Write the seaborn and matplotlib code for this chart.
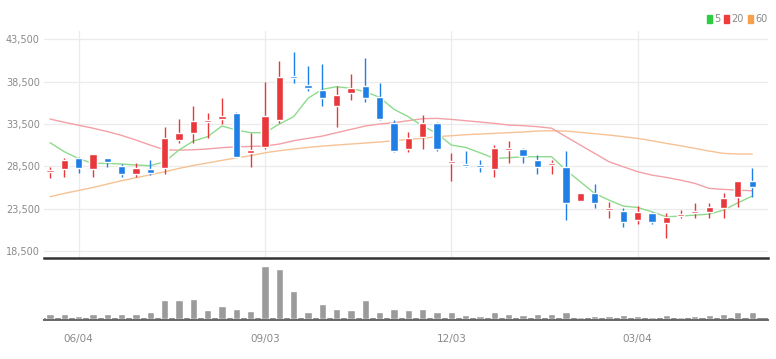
import numpy as np
import pandas as pd
import seaborn as sns
import matplotlib
matplotlib.use("Agg")
from matplotlib import pyplot as plt
from matplotlib.patches import Patch

sns.set_style("white")
plt.rcParams['font.family'] = ['Liberation Sans Narrow', 'DejaVu Sans']

# weekly candles ~~~~~~~~~~~~~~~~~~~~~~~~~~~~~~~~~~~~~~~~~~~~~~~~~~~~~~~~~~~~
opens = [27800, 28170, 29430, 28170, 29430, 28570, 27580, 28170, 28250, 31600,
         32390, 33700, 34120, 34750, 30030, 30810, 33970, 39100, 38100, 37510,
         35660, 37120, 37980, 36640, 33650, 30500, 31920, 33650, 28850, 28620,
         28560, 28130, 30450, 30500, 29240, 28620, 28450, 24390, 25380, 23300,
         23250, 22150, 23010, 21830, 22600, 22950, 23130, 23520, 24900, 26760]
closes = [27900, 29240, 28250, 29900, 29040, 27580, 28330, 27740, 31880, 32390,
          33850, 33850, 34440, 29630, 30420, 34440, 39090, 38950, 37790, 36530,
          36920, 37710, 36530, 34080, 30300, 31880, 33650, 30500, 28920, 28560,
          28450, 30620, 30550, 29710, 28450, 28770, 24120, 25300, 24190, 23410,
          21950, 23130, 21950, 22460, 22740, 23090, 23640, 24790, 26760, 26090]
highs = [28450, 29430, 29630, 29980, 29430, 28760, 28920, 29240, 33180, 34080,
         35620, 34750, 36530, 34950, 32390, 38500, 40980, 41960, 40390, 40550,
         37980, 39400, 41330, 38300, 33960, 32590, 34560, 33770, 30030, 30340,
         29240, 31010, 31520, 30620, 29830, 29240, 30300, 25300, 26400, 24310,
         23520, 23800, 23130, 23010, 23330, 24190, 24110, 25380, 26760, 28250]
lows = [27070, 27270, 27740, 27270, 28370, 27270, 27270, 27460, 27580, 31210,
        31290, 31880, 33490, 29550, 28450, 30500, 33570, 38380, 37390, 35660,
        33100, 36330, 36130, 33960, 30140, 30220, 30500, 30340, 26790, 28370,
        27860, 27270, 28840, 28840, 27580, 27580, 22150, 24390, 23520, 22340,
        21360, 21670, 21670, 19980, 22340, 22340, 22340, 22340, 23640, 24900]
volumes = [15, 14, 10, 14, 14, 16, 14, 20, 58, 58, 60, 28, 40, 30, 24, 162, 152, 84,
           20, 45, 30, 28, 58, 21, 30, 26, 30, 21, 20, 11, 9, 20, 14, 11, 14, 14,
           21, 6, 8, 9, 11, 8, 6, 11, 6, 9, 11, 16, 20, 20]

# moving averages as drawn
ma5 = [31290, 30220, 29400, 28840, 28840, 28770, 28650, 28570, 29040, 30420,
       31480, 32000, 33260, 32780, 32470, 32470, 33490, 34360, 36530, 37590,
       37900, 37710, 37310, 36640, 35230, 34360, 33260, 32390, 31010, 30730,
       30100, 29430, 29510, 29630, 29630, 29630, 28060, 26680, 25300, 24510,
       23800, 23640, 23130, 22540, 22620, 22740, 22850, 23330, 24190, 24980]
ma20 = [34080, 33700, 33350, 33000, 32600, 32150, 31600, 31000, 30450, 30400,
        30450, 30550, 30700, 30800, 30850, 30890, 31130, 31520, 31800, 32070,
        32470, 32860, 33260, 33490, 33650, 33890, 34120, 34160, 34040, 33890,
        33730, 33570, 33370, 33300, 33180, 33000, 32000, 31010, 30030, 29040,
        28450, 27860, 27460, 27190, 26870, 26480, 25890, 25770, 25690, 25610]
ma60 = [24900, 25300, 25650, 26000, 26400, 26800, 27150, 27500, 27850, 28250,
        28600, 28900, 29200, 29500, 29750, 30100, 30340, 30540, 30730, 30890,
        31010, 31130, 31250, 31370, 31520, 31680, 31800, 32000, 32110, 32230,
        32310, 32390, 32470, 32550, 32660, 32700, 32660, 32510, 32350, 32190,
        32000, 31800, 31520, 31210, 30930, 30620, 30300, 30030, 29950, 29950]

tick_pos = [2, 15, 28, 41]
tick_labels = ['06/04', '09/03', '12/03', '03/04']
y_ticks = [18500, 23500, 28500, 33500, 38500, 43500]

df = pd.DataFrame({'i': np.arange(len(opens)), 'open': opens, 'close': closes,
                   'high': highs, 'low': lows, 'vol': volumes,
                   'ma5': ma5, 'ma20': ma20, 'ma60': ma60})

RED = '#e8383b'
BLUE = '#1f7fe6'
GRID = '#ebebeb'
TXT = '#8a8a8a'

fig = plt.figure(figsize=(7.76, 3.59), dpi=100)
ax = fig.add_axes([44/776, 101/359, 724/776, 227/359])
axv = fig.add_axes([44/776, 39/359, 724/776, 60/359])

# Main panel ~~~~~~~~~~~~~~~~~~~~~~~~~~~~~~~~~~~~~~~~~~~~~~~~~~~~~~~~~~~~~~~~
for y in y_ticks:
    ax.axhline(y, color=GRID, lw=0.9, zorder=0)
for x in tick_pos:
    ax.axvline(x, color=GRID, lw=0.9, zorder=0)

sns.lineplot(data=df, x='i', y='ma60', ax=ax, color='#f6c294', lw=1.0, zorder=2)
sns.lineplot(data=df, x='i', y='ma20', ax=ax, color='#f3a0a6', lw=1.0, zorder=2)
sns.lineplot(data=df, x='i', y='ma5', ax=ax, color='#8edb8e', lw=1.0, zorder=2)

up = df['close'] >= df['open']
cols = np.where(up, RED, BLUE)
ax.vlines(df['i'], df['low'], df['high'], colors=cols, lw=1.0, zorder=3)
body_h = (df['close'] - df['open']).abs().clip(lower=260)
body_b = df[['open', 'close']].min(axis=1)
ax.bar(df['i'], body_h, bottom=body_b, width=0.5, color=cols, zorder=4)

ax.set_xlim(-0.42, 50.1)
ax.set_ylim(17670, 44480)
ax.set_yticks(y_ticks)
ax.set_yticklabels([f'{v:,}' for v in y_ticks])
ax.set_xticks([])
ax.set_xlabel('')
ax.set_ylabel('')
ax.tick_params(axis='y', length=0, labelsize=7, labelcolor=TXT, pad=3)
for s in ['top', 'right', 'left']:
    ax.spines[s].set_visible(False)
ax.spines['bottom'].set_color('#333333')
ax.spines['bottom'].set_linewidth(1.8)

# Volume panel ~~~~~~~~~~~~~~~~~~~~~~~~~~~~~~~~~~~~~~~~~~~~~~~~~~~~~~~~~~~~~
sns.barplot(data=df, x='i', y='vol', ax=axv, color='#9b9b9b', width=0.5,
            saturation=1, zorder=2)
axv.set_xlim(-0.42, 50.1)
axv.set_ylim(-3, max(volumes) * 60 / 54)
axv.set_yticks([])
axv.set_xticks(tick_pos)
axv.set_xticklabels(tick_labels)
axv.set_xlabel('')
axv.set_ylabel('')
axv.tick_params(axis='x', length=4, width=0.8, color='#555555',
                labelsize=7.5, labelcolor=TXT, pad=6)
for s in ['top', 'right', 'left']:
    axv.spines[s].set_visible(False)
axv.spines['bottom'].set_color('#666666')
axv.spines['bottom'].set_linewidth(1.4)
axv.axhline(0, color='#777777', lw=1.2, zorder=1)

# Legend ~~~~~~~~~~~~~~~~~~~~~~~~~~~~~~~~~~~~~~~~~~~~~~~~~~~~~~~~~~~~~~~~~~~~
handles = [Patch(color='#2ecc40', label='5'), Patch(color='#f03c3c', label='20'),
           Patch(color='#f5a04a', label='60')]
leg = fig.legend(handles=handles, loc='upper right', bbox_to_anchor=(1.0, 0.985),
                 ncol=3, frameon=False, fontsize=7, handlelength=0.5,
                 handleheight=0.9, handletextpad=0.25, columnspacing=0.4)
for t in leg.get_texts():
    t.set_color(TXT)

fig.savefig('out.png', dpi=100)
